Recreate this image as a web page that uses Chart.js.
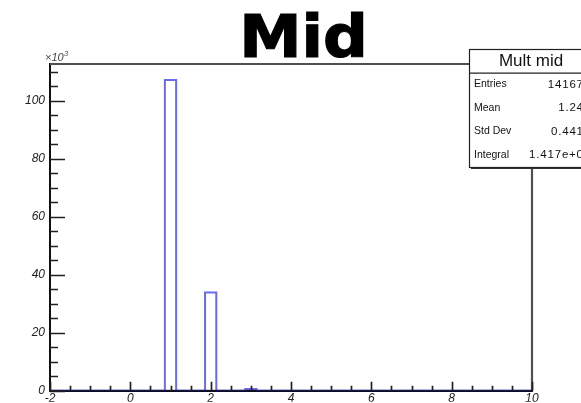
<!DOCTYPE html>
<html>
<head>
<meta charset="utf-8">
<script src="https://cdn.jsdelivr.net/npm/chart.js@4/dist/chart.umd.min.js"></script>
<style>
  html, body { margin: 0; padding: 0; background: #fff; overflow: hidden; }
  canvas { display: block; }
</style>
</head>
<body>
<canvas id="c" width="581" height="403"></canvas>
<script>
// Histogram "Mult mid": bin contents in units of 10^3 entries
const histTitle = 'Mid';
const statsName = 'Mult mid';
const binCenters = [1, 2, 3];
const binWidth = 0.28;
const binCounts = [107.15, 33.92, 0.60];
const xRange = [-2, 10];
const yMax = 112.7;
const xTicks = [-2, 0, 2, 4, 6, 8, 10];
const yTicks = [0, 20, 40, 60, 80, 100];
const yExponent = '3';

// Step outline of the histogram, running along zero between filled bins
const outline = [{ x: xRange[0], y: 0 }];
binCenters.forEach((c, i) => {
  const lo = c - binWidth / 2, hi = c + binWidth / 2;
  outline.push({ x: lo, y: 0 }, { x: lo, y: binCounts[i] }, { x: hi, y: binCounts[i] }, { x: hi, y: 0 });
});
outline.push({ x: xRange[1], y: 0 });

// Statistics shown in the stats box
const total = binCounts.reduce((a, b) => a + b, 0);
const mean = binCenters.reduce((s, c, i) => s + c * binCounts[i], 0) / total;
const m2 = binCenters.reduce((s, c, i) => s + c * c * binCounts[i], 0) / total;
const stdDev = Math.sqrt(m2 - mean * mean);
function rootExp(v) {
  const [m, e] = v.toExponential(3).split('e');
  const n = parseInt(e, 10);
  return m + 'e' + (n < 0 ? '-' : '+') + String(Math.abs(n)).padStart(2, '0');
}
const statRows = [
  ['Entries', String(Math.round(total * 1000))],
  ['Mean', mean.toPrecision(4)],
  ['Std Dev', stdDev.toPrecision(4)],
  ['Integral', rootExp(total * 1000)]
];

const rootStyle = {
  id: 'rootStyle',
  afterDatasetsDraw(chart) {
    const { ctx, chartArea: a, scales: { x, y } } = chart;
    ctx.save();
    // frame top and right side
    ctx.strokeStyle = '#505050';
    ctx.lineWidth = 2.2;
    ctx.beginPath();
    ctx.moveTo(a.left, a.top);
    ctx.lineTo(a.right, a.top);
    ctx.lineTo(a.right, a.bottom);
    ctx.stroke();
    // axis line drawn over the histogram baseline
    ctx.strokeStyle = 'rgba(10,10,50,0.7)';
    ctx.lineWidth = 2;
    ctx.beginPath();
    ctx.moveTo(a.left, a.bottom);
    ctx.lineTo(a.right, a.bottom);
    ctx.stroke();
    // inward ticks on y
    ctx.strokeStyle = '#202020';
    ctx.lineWidth = 1.7;
    ctx.beginPath();
    for (let v = 0; v <= yMax; v += 5) {
      const py = Math.round(y.getPixelForValue(v)) + 0.5;
      const len = v % 20 === 0 ? 15 : 8;
      ctx.moveTo(a.left, py);
      ctx.lineTo(a.left + len, py);
    }
    // inward ticks on x
    for (let v = xRange[0]; v <= xRange[1] + 1e-9; v += 0.5) {
      const px = Math.round(x.getPixelForValue(v)) + 0.5;
      const len = Math.abs(v % 2) < 1e-9 ? 9 : 5;
      ctx.moveTo(px, a.bottom);
      ctx.lineTo(px, a.bottom - len);
    }
    ctx.stroke();
    ctx.restore();
  },
  afterDraw(chart) {
    const { ctx, chartArea: a } = chart;
    ctx.save();
    // title, slightly widened
    ctx.save();
    ctx.translate(303.5, 57);
    ctx.scale(1.08, 1);
    ctx.fillStyle = '#000';
    ctx.strokeStyle = '#000';
    ctx.lineWidth = 1.2;
    ctx.font = 'bold 58px "DejaVu Sans"';
    ctx.textAlign = 'center';
    ctx.textBaseline = 'alphabetic';
    ctx.fillText(histTitle, 0, 0);
    ctx.strokeText(histTitle, 0, 0);
    ctx.restore();
    // axis exponent
    ctx.fillStyle = '#444';
    ctx.textAlign = 'left';
    ctx.textBaseline = 'alphabetic';
    ctx.font = 'italic 11px "Liberation Sans"';
    ctx.fillText('\u00d710', a.left - 5, a.top - 3);
    ctx.font = 'italic 7.5px "Liberation Sans"';
    ctx.fillText(yExponent, a.left + 14, a.top - 8);
    // stats box: title line plus one line per statistic
    const bx = 469, by = 49, bw = 130, bh = 118;
    const lh = bh / (statRows.length + 1);
    ctx.fillStyle = '#333';
    ctx.fillRect(bx + 2, by + 2, bw, bh);
    ctx.fillStyle = '#fff';
    ctx.fillRect(bx, by, bw, bh);
    ctx.strokeStyle = '#222';
    ctx.lineWidth = 1.2;
    ctx.strokeRect(bx + 0.5, by + 0.5, bw, bh);
    ctx.beginPath();
    ctx.moveTo(bx, by + lh + 0.5);
    ctx.lineTo(bx + bw, by + lh + 0.5);
    ctx.stroke();
    ctx.fillStyle = '#111';
    ctx.font = '17px "Liberation Sans"';
    ctx.textAlign = 'center';
    ctx.textBaseline = 'middle';
    ctx.fillText(statsName, 531, by + lh / 2 + 1);
    statRows.forEach((r, i) => {
      const ty = by + lh * (i + 1.5);
      ctx.font = '10.5px "Liberation Sans"';
      ctx.letterSpacing = '0px';
      ctx.textAlign = 'left';
      ctx.fillText(r[0], 474, ty);
      ctx.font = '11.5px "Liberation Sans"';
      ctx.letterSpacing = '0.8px';
      ctx.textAlign = 'right';
      ctx.fillText(r[1], 591, ty);
    });
    ctx.restore();
  }
};

new Chart(document.getElementById('c'), {
  type: 'line',
  data: {
    datasets: [{
      data: outline,
      borderColor: 'rgba(70,70,225,0.8)',
      borderWidth: 2,
      pointRadius: 0,
      fill: false,
      tension: 0
    }]
  },
  options: {
    responsive: false,
    animation: false,
    devicePixelRatio: 1,
    layout: { padding: { left: 0, right: 49, top: 64, bottom: 0 } },
    plugins: { legend: { display: false }, tooltip: { enabled: false }, title: { display: false } },
    scales: {
      x: {
        type: 'linear',
        min: xRange[0],
        max: xRange[1],
        afterBuildTicks: s => { s.ticks = xTicks.map(v => ({ value: v })); },
        afterFit: s => { s.height = 11; },
        grid: { display: false, drawTicks: false },
        border: { display: true, color: '#111', width: 2 },
        ticks: {
          padding: 1,
          color: '#222',
          font: { family: 'Liberation Sans', size: 12, style: 'italic' },
          maxRotation: 0,
          autoSkip: false
        }
      },
      y: {
        type: 'linear',
        min: 0,
        max: yMax,
        afterBuildTicks: s => { s.ticks = yTicks.map(v => ({ value: v })); },
        afterFit: s => { s.width = 50; },
        grid: { display: false, drawTicks: false },
        border: { display: true, color: '#111', width: 2 },
        ticks: {
          padding: 5,
          color: '#222',
          font: { family: 'Liberation Sans', size: 12, style: 'italic' }
        }
      }
    }
  },
  plugins: [rootStyle]
});
</script>
</body>
</html>
